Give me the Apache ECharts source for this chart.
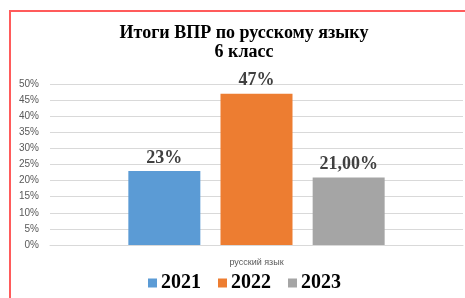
<!DOCTYPE html>
<html>
<head>
<meta charset="utf-8">
<script src="https://cdn.jsdelivr.net/npm/echarts@6/dist/echarts.min.js"></script>
<style>
  html, body { margin: 0; padding: 0; background: #fff; }
  #chart { width: 465px; height: 298px; }
</style>
</head>
<body>
<div id="chart"></div>
<script>
var categories = ['русский язык'];
var years = ['2021', '2022', '2023'];
var values2021 = [23];
var values2022 = [47];
var values2023 = [21];
var valueLabels = ['23%', '47%', '21,00%'];
var colors = ['#5b9bd5', '#ed7d31', '#a5a5a5'];

var chart = echarts.init(document.getElementById('chart'));
var seriesData = [values2021, values2022, values2023];

var series = years.map(function (y, i) {
    return {
        name: y,
        type: 'bar',
        data: seriesData[i],
        barWidth: 72,
        barGap: '28%',
        itemStyle: { color: colors[i] },
        label: {
            show: true,
            position: 'top',
            distance: 4,
            formatter: function () { return valueLabels[i]; },
            fontFamily: 'Liberation Serif',
            fontWeight: 'bold',
            fontSize: 18,
            color: '#404040'
        }
    };
});

var option = {
    animation: false,
    color: colors,
    title: {
        text: 'Итоги ВПР по русскому языку\n6 класс',
        left: 239,
        textAlign: 'center',
        top: 19,
        textStyle: {
            fontFamily: 'Liberation Serif',
            fontWeight: 'bold',
            fontSize: 18,
            lineHeight: 19,
            color: '#000'
        }
    },
    legend: {
        data: years,
        top: 268,
        left: 143,
        icon: 'rect',
        itemWidth: 9,
        itemHeight: 9,
        itemGap: 17,
        textStyle: {
            fontFamily: 'Liberation Serif',
            fontWeight: 'bold',
            fontSize: 20,
            padding: [0, 0, 0, -1],
            color: '#000'
        }
    },
    grid: { left: 50, right: 2, top: 84, bottom: 53, containLabel: false },
    xAxis: {
        type: 'category',
        data: categories,
        axisTick: { show: false },
        axisLine: { lineStyle: { color: '#d9d9d9' } },
        axisLabel: { color: '#595959', fontSize: 9, margin: 13, fontFamily: 'Liberation Sans' }
    },
    yAxis: {
        type: 'value',
        min: 0,
        max: 50,
        interval: 5,
        axisLabel: { formatter: '{value}%', color: '#595959', fontSize: 10, margin: 11, fontFamily: 'Liberation Sans' },
        splitLine: { lineStyle: { color: '#d9d9d9' } }
    },
    graphic: [
        { type: 'line', shape: { x1: 9, y1: 11, x2: 465, y2: 11 }, style: { stroke: '#ff5b5b', lineWidth: 2 } },
        { type: 'line', shape: { x1: 10, y1: 10, x2: 10, y2: 298 }, style: { stroke: '#ff5b5b', lineWidth: 2 } }
    ],
    series: series
};

chart.setOption(option);
window.onresize = function () {
    chart.resize();
};
</script>
</body>
</html>
